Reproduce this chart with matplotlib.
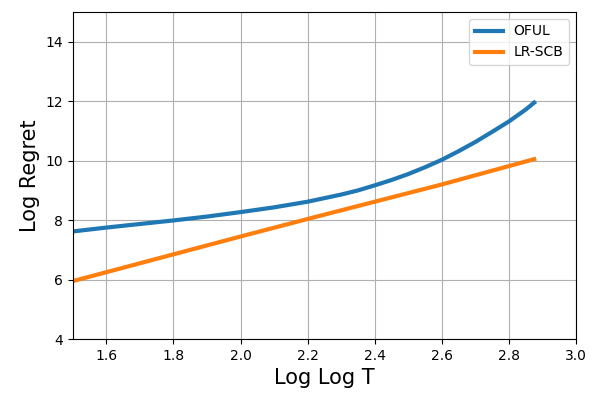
import numpy as np
import matplotlib.pyplot as plt

# values
x_oful = [1.5, 1.6, 1.7, 1.8, 1.9, 2.0, 2.1, 2.2, 2.3, 2.35, 2.4, 2.45, 2.5, 2.55, 2.6,
          2.65, 2.7, 2.75, 2.8, 2.85, 2.875]
y_oful = [7.62, 7.75, 7.87, 7.99, 8.12, 8.27, 8.43, 8.62, 8.86, 9.0, 9.17, 9.35, 9.55, 9.78, 10.03,
          10.32, 10.63, 10.97, 11.32, 11.72, 11.95]

x_lr = [1.5, 1.8, 2.0, 2.2, 2.4, 2.6, 2.875]
y_lr = [5.95, 6.85, 7.45, 8.04, 8.62, 9.2, 10.05]

fig = plt.figure(figsize=(6.02, 3.98), dpi=100)
ax = fig.add_axes([0.121, 0.148, 0.836, 0.822])

ax.plot(x_oful, y_oful, color='#1f77b4', linewidth=3, label='OFUL')
ax.plot(x_lr, y_lr, color='#ff7f0e', linewidth=3, label='LR-SCB')

ax.set_xlim(1.5, 3.0)
ax.set_ylim(4, 15)
ax.set_xticks([1.6, 1.8, 2.0, 2.2, 2.4, 2.6, 2.8, 3.0])
ax.set_yticks([4, 6, 8, 10, 12, 14])
ax.tick_params(labelsize=10)
ax.grid(True, color='#b0b0b0', linewidth=0.8)
ax.set_xlabel("Log Log T", fontsize=15)
ax.set_ylabel("Log Regret", fontsize=15)
ax.legend(loc='upper right', fontsize=10)

fig.savefig("out.png", dpi=100)
